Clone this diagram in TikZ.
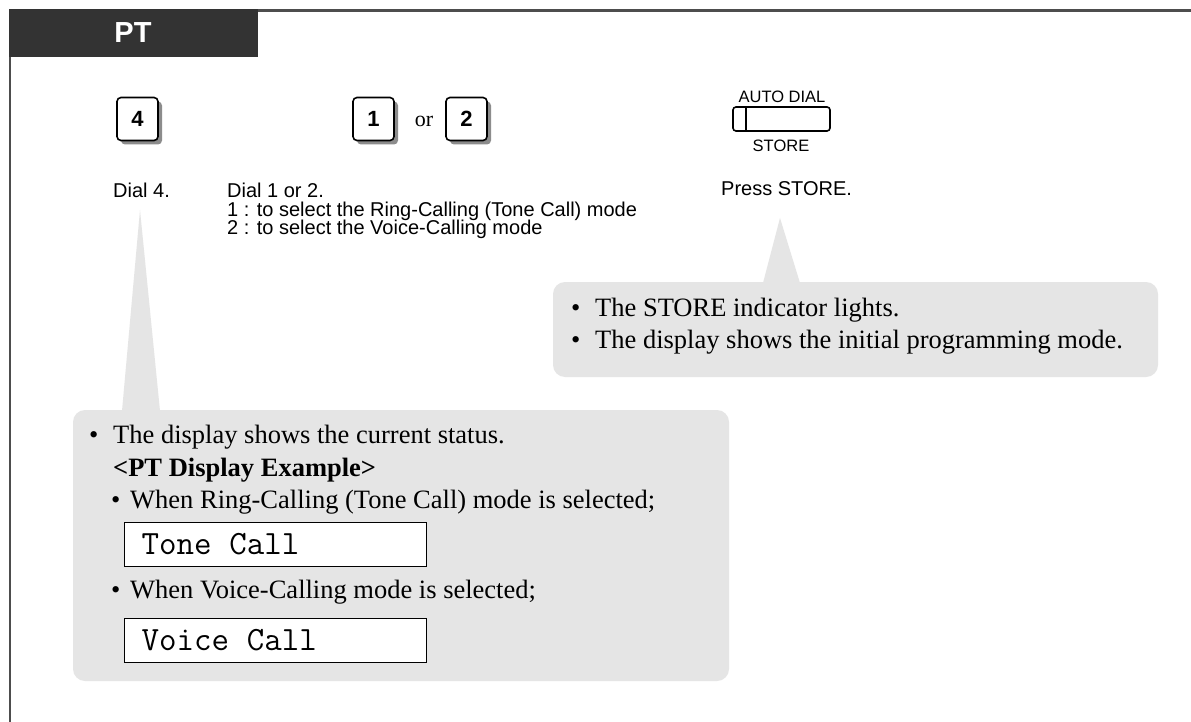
\documentclass[tikz,border=0pt]{standalone}
\usepackage{fontspec}
\setmainfont{Liberation Serif}
\setsansfont{Liberation Sans}
\usepackage{tikz}
\usetikzlibrary{shadows}
\definecolor{hdgray}{HTML}{333333}
\definecolor{framegray}{HTML}{4D4D4D}
\definecolor{bubgray}{HTML}{E5E5E5}

\begin{document}
\begin{tikzpicture}[x=1pt, y=-1pt,
    key/.style={draw, line width=1.6pt, rounded corners=4pt, fill=white,
      minimum width=41pt, minimum height=43pt, inner sep=0pt,
      font=\sffamily\bfseries\fontsize{22}{22}\selectfont,
      drop shadow={shadow xshift=4pt, shadow yshift=-4pt, fill=black!45, opacity=1}},
    lbl/.style={anchor=base west, inner sep=0pt, font=\sffamily\fontsize{20}{20}\selectfont},
    tag/.style={anchor=base, inner sep=0pt, font=\sffamily\fontsize{16.5}{16.5}\selectfont},
    note/.style={anchor=base west, inner sep=0pt, font=\fontsize{26.5}{26.5}\selectfont},
    lcd/.style={draw, line width=1.1pt, fill=white, anchor=north west,
      minimum height=44pt, text width=268pt, inner xsep=17pt, align=left,
      font=\ttfamily\fontsize{34}{34}\selectfont,
      execute at begin node={\spaceskip=17.85pt\relax}},
    bub/.style={fill=bubgray}
  ]
    \useasboundingbox[fill=white] (0,0) rectangle (1191,722);
    % ---- frame and tab ----
    \fill[hdgray] (9,9) rectangle (258,57);
    \node[text=white, font=\sffamily\bfseries\fontsize{29}{29}\selectfont] (pt) at (133,33) {PT};
    \draw[framegray, line width=3pt] (258,10.5) -- (1191,10.5);
    \draw[framegray, line width=2.2pt] (10,57) -- (10,722);
    % ---- keys ----
    \node[key] (k4) at (137.5,119) {4};
    \node[key] (k1) at (373.5,119) {1};
    \node[anchor=base, inner sep=0pt, font=\fontsize{22}{22}\selectfont] (or) at (424,127) {or};
    \node[key] (k2) at (466.5,119) {2};
    % ---- store button ----
    \node[tag] (auto) at (782,103) {AUTO DIAL};
    \draw[line width=1.6pt, rounded corners=3pt] (733,107) rectangle (830,131);
    \draw[line width=1.6pt] (746,107) -- (746,131);
    \node[tag] (store) at (781,152) {STORE};
    % ---- step texts ----
    \node[lbl] (d4) at (113,198) {Dial 4.};
    \node[lbl] (d12) at (227,198) {Dial 1 or 2.};
    \node[lbl] (s1) at (227,216) {1 : to select the Ring-Calling (Tone Call) mode};
    \node[lbl] (s2) at (227,234) {2 : to select the Voice-Calling mode};
    \node[lbl] (ps) at (721,196) {Press STORE.};
    % ---- callout for STORE ----
    \fill[bub, rounded corners=12pt] (553,282) rectangle (1158,377);
    \fill[bub] (763,283) -- (780,218) -- (800,283) -- cycle;
    \node[note] (b1) at (571,316) {•};
    \node[note] (t1) at (595,316) {The STORE indicator lights.};
    \node[note] (b2) at (571,348) {•};
    \node[note] (t2) at (595,348) {The display shows the initial programming mode.};
    % ---- callout for dial 4 ----
    \fill[bub, rounded corners=12pt] (73,410) rectangle (729,681);
    \fill[bub] (122,411) -- (140,210) -- (160,411) -- cycle;
    \node[note] (b3) at (89,443) {•};
    \node[note] (t3) at (113,443) {The display shows the current status.};
    \node[note, font=\bfseries\fontsize{26.5}{26.5}\selectfont] (ex) at (113,476) {<PT Display Example>};
    \node[note] (b4) at (111,508) {•};
    \node[note] (t4) at (130,508) {When Ring-Calling (Tone Call) mode is selected;};
    \node[lcd] (tone) at (124,522) {Tone Call};
    \node[note] (b5) at (111,598) {•};
    \node[note] (t5) at (130,598) {When Voice-Calling mode is selected;};
    \node[lcd] (voice) at (124,618) {Voice Call};
\end{tikzpicture}
\end{document}
